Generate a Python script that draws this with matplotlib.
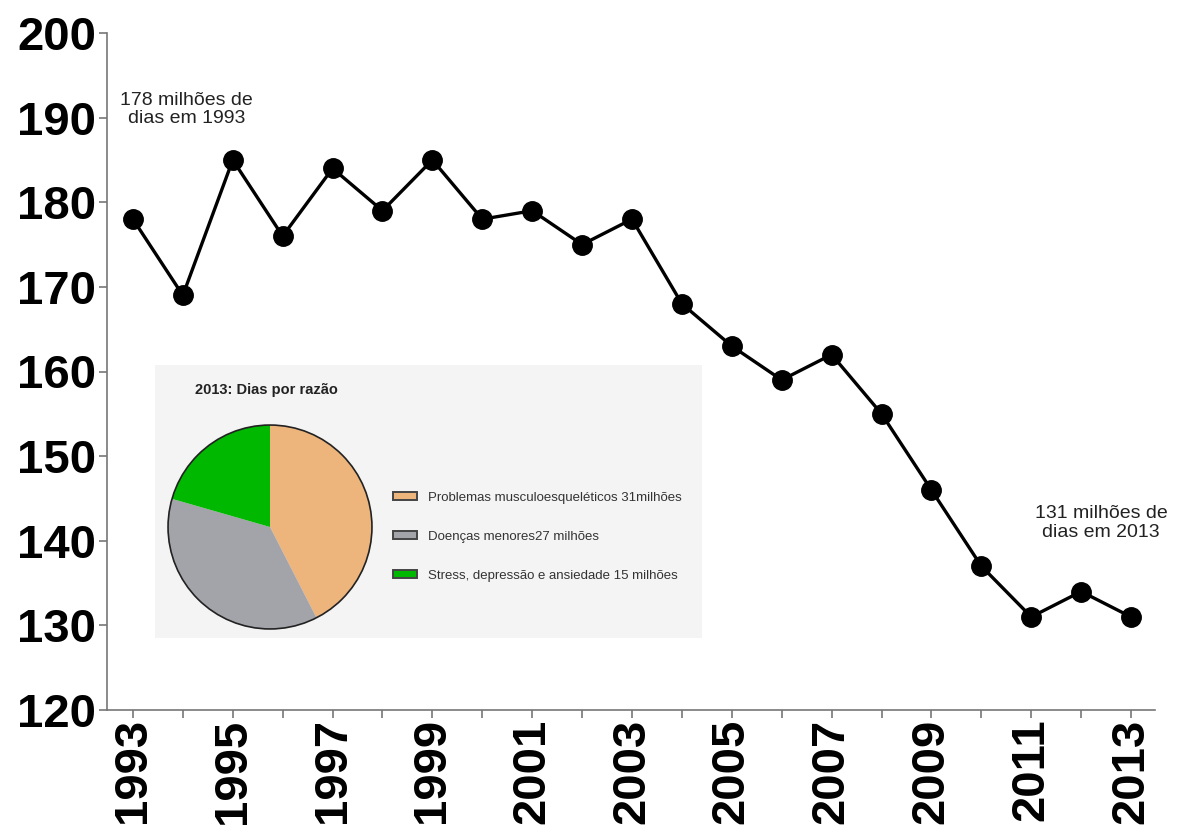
import matplotlib.pyplot as plt
from matplotlib.patches import Circle, Patch

years = list(range(1993, 2014))
days = [178, 169, 185, 176, 184, 179, 185, 178, 179, 175, 178,
        168, 163, 159, 162, 155, 146, 137, 131, 134, 131]

reasons = ["Problemas musculoesqueléticos 31milhões",
           "Doenças menores27 milhões",
           "Stress, depressão e ansiedade 15 milhões"]
reason_days = [31, 27, 15]
reason_colors = ["#EDB47C", "#A3A3AA", "#00B800"]

plt.rcParams["font.family"] = ["Liberation Sans", "DejaVu Sans"]

W, H = 1184, 836
fig = plt.figure(figsize=(W / 100, H / 100), dpi=100)


def px_box(x0, y0, x1, y1):
    return [x0 / W, 1 - y1 / H, (x1 - x0) / W, (y1 - y0) / H]


ax = fig.add_axes(px_box(107, 33, 1155, 710))
ax.plot(years, days, color="black", lw=2.4, marker="o", ms=14, zorder=3)
ax.set_xlim(1992.48, 2013.48)
ax.set_ylim(120, 200)
ax.set_yticks(range(120, 201, 10))
ax.set_xticks(years)
ax.set_xticklabels([str(y) if (y - 1993) % 2 == 0 else "" for y in years],
                   rotation=90)
for s in ["top", "right"]:
    ax.spines[s].set_visible(False)
for s in ["left", "bottom"]:
    ax.spines[s].set_color("#777777")
    ax.spines[s].set_linewidth(1.2)
ax.tick_params(axis="both", colors="#777777", length=6, width=1.2,
               labelcolor="black", labelsize=34)
for lab in ax.get_xticklabels() + ax.get_yticklabels():
    lab.set_fontweight("bold")
ax.tick_params(axis="x", pad=0)
ax.tick_params(axis="y", pad=2)

ax.text(1994.08, 191.0, "178 milhões de\ndias em 1993", ha="center",
        va="center", fontsize=14, color="#222222", linespacing=1.1)
ax.text(2012.4, 142.1, "131 milhões de\ndias em 2013", ha="center",
        va="center", fontsize=14, color="#222222", linespacing=1.1)

# inset panel with the 2013 breakdown
box = fig.add_axes(px_box(155, 365, 702, 638))
box.set_facecolor("#F4F4F4")
box.set_xticks([])
box.set_yticks([])
for s in box.spines.values():
    s.set_visible(False)
box.text(40 / 547, 1 - 25 / 273, "2013: Dias por razão", fontsize=10.5,
         fontweight="bold", color="#222222", va="center", ha="left",
         transform=box.transAxes)

pie_ax = fig.add_axes(px_box(166, 423, 374, 631))
pie_ax.pie(reason_days, colors=reason_colors, startangle=90,
           counterclock=False, wedgeprops=dict(linewidth=0))
pie_ax.add_patch(Circle((0, 0), 1, fill=False, edgecolor="#222222", lw=1.2))
pie_ax.set_xlim(-1.02, 1.02)
pie_ax.set_ylim(-1.02, 1.02)
pie_ax.set_aspect("equal")
pie_ax.axis("off")

handles = [Patch(facecolor=c, edgecolor="#444444", lw=1.4) for c in reason_colors]
fig.legend(handles, reasons, loc="center left",
           bbox_to_anchor=(381 / W, 1 - 537 / H), frameon=False,
           fontsize=9.5, labelcolor="#333333", handlelength=1.8,
           handleheight=0.55, handletextpad=0.9, labelspacing=2.05)

fig.savefig("out.png", dpi=100)
